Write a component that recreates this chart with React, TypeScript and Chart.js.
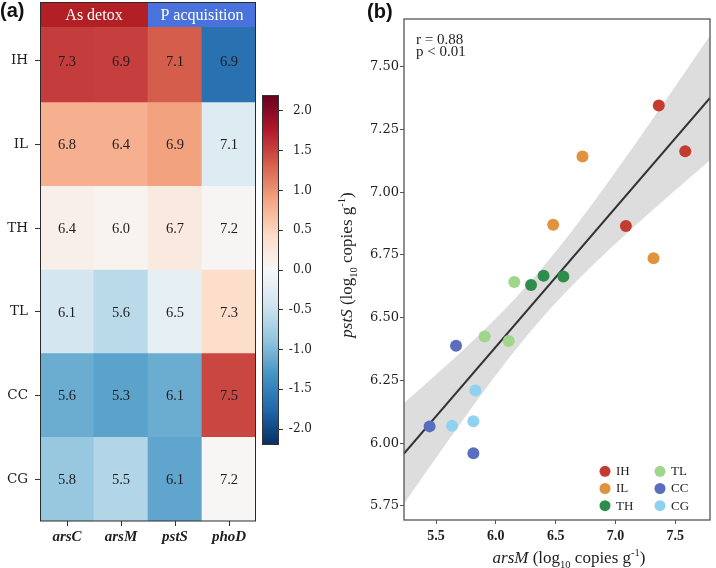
import React, { useEffect, useRef } from 'react';
import { Chart, registerables } from 'chart.js';
Chart.register(...registerables);

// ---------- Panel (a): heatmap data ----------
const sites = ['IH', 'IL', 'TH', 'TL', 'CC', 'CG'];
const genes = ['arsC', 'arsM', 'pstS', 'phoD'];
const arsCValues = [7.3, 6.8, 6.4, 6.1, 5.6, 5.8];
const arsMValues = [6.9, 6.4, 6.0, 5.6, 5.3, 5.5];
const pstSValues = [7.1, 6.9, 6.7, 6.5, 6.1, 6.1];
const phoDValues = [6.9, 7.1, 7.2, 7.3, 7.5, 7.2];
// colour-scale (scaled) values
const arsCScores = [1.54, 0.8, 0.12, -0.4, -1.1, -0.84];
const arsMScores = [1.52, 0.8, 0.07, -0.6, -1.18, -0.66];
const pstSScores = [1.34, 0.9, 0.22, -0.2, -1.1, -1.16];
const phoDScores = [-1.65, -0.3, 0.03, 0.4, 1.47, 0.02];
const groupLabels = ['As detox', 'P acquisition'];
const groupSpans = [2, 2];
const groupColors = ['#b21f24', '#4a72dc'];
const colorbarMin = -2.2;
const colorbarMax = 2.2;
const colorbarTicks = [-2, -1.5, -1, -0.5, 0, 0.5, 1, 1.5, 2];
const rdbu = ['#053061', '#2166ac', '#4393c3', '#92c5de', '#d1e5f0', '#f7f7f7', '#fddbc7', '#f4a582', '#d6604d', '#b2182b', '#67001f'];

// ---------- Panel (b): scatter data ----------
const scatterLabels = ['IH', 'IL', 'TH', 'TL', 'CC', 'CG'];
const scatterColors = ['#c43c2f', '#e0923f', '#2f8d4c', '#9fd68b', '#5a6ec0', '#8fd2f0'];
const ihArsM = [7.362, 7.583, 7.087];
const ihPstS = [7.345, 7.163, 6.865];
const ilArsM = [6.724, 6.479, 7.318];
const ilPstS = [7.142, 6.87, 6.737];
const thArsM = [6.294, 6.399, 6.564];
const thPstS = [6.63, 6.667, 6.664];
const tlArsM = [6.154, 5.906, 6.107];
const tlPstS = [6.642, 6.425, 6.407];
const ccArsM = [5.667, 5.446, 5.812];
const ccPstS = [6.388, 6.067, 5.96];
const cgArsM = [5.829, 5.634, 5.812];
const cgPstS = [6.21, 6.069, 6.087];
const xTicks = [5.5, 6.0, 6.5, 7.0, 7.5];
const yTicks = [5.75, 6.0, 6.25, 6.5, 6.75, 7.0, 7.25, 7.5];
const xRange = [5.232, 7.79];
const yRange = [5.694, 7.69];
const tCrit = 2.12;
const statText = ['r = 0.88', 'p < 0.01'];

const SERIF = 'Liberation Serif';
const SERIF2 = 'DejaVu Serif';
const INK = '#1e1e1e';

function hexToRgb(h: string) {
  const n = parseInt(h.slice(1), 16);
  return [(n >> 16) & 255, (n >> 8) & 255, n & 255];
}
function scoreColor(v: number) {
  let t = (v - colorbarMin) / (colorbarMax - colorbarMin);
  t = Math.max(0, Math.min(1, t));
  const p = t * (rdbu.length - 1);
  const i = Math.min(Math.floor(p), rdbu.length - 2);
  const f = p - i;
  const a = hexToRgb(rdbu[i]);
  const b = hexToRgb(rdbu[i + 1]);
  const c = a.map((x, k) => Math.round(x + (b[k] - x) * f));
  return `rgb(${c[0]},${c[1]},${c[2]})`;
}

type Run = { text: string; style?: string; scale?: number; shift?: number };
function drawRuns(ctx: CanvasRenderingContext2D, runs: Run[], x: number, y: number, size: number) {
  const fonts = runs.map(r => `${r.style || 'normal'} normal ${size * (r.scale || 1)}px "${SERIF}"`);
  const widths = runs.map((r, i) => { ctx.font = fonts[i]; return ctx.measureText(r.text).width; });
  const total = widths.reduce((a, b) => a + b, 0);
  let cx = x - total / 2;
  ctx.textAlign = 'left';
  ctx.textBaseline = 'alphabetic';
  runs.forEach((r, i) => {
    ctx.font = fonts[i];
    ctx.fillText(r.text, cx, y + (r.shift || 0) * size);
    cx += widths[i];
  });
}
function titleRuns(gene: string): Run[] {
  return [
    { text: gene, style: 'italic' },
    { text: ' (log' },
    { text: '10', scale: 0.62, shift: 0.28 },
    { text: ' copies g' },
    { text: '-1', scale: 0.62, shift: -0.42 },
    { text: ')' },
  ];
}

function makeHeatmap(canvas: HTMLCanvasElement) {
  const values = [arsCValues, arsMValues, pstSValues, phoDValues];
  const scores = [arsCScores, arsMScores, pstSScores, phoDScores];
  const rowOrder = sites.map((_, i) => sites.length - 1 - i);
  const datasets = rowOrder.map(r => ({
    label: sites[r],
    data: genes.map(() => 1),
    backgroundColor: genes.map((_, g) => scoreColor(scores[g][r])),
    borderWidth: 0,
    barPercentage: 1,
    categoryPercentage: 1,
  }));
  const decor = {
    id: 'heatDecor',
    afterDatasetsDraw(chart: any) {
      const ctx = chart.ctx as CanvasRenderingContext2D;
      const area = chart.chartArea;
      ctx.save();
      ctx.fillStyle = INK;
      ctx.font = `14.5px "${SERIF}"`;
      ctx.textAlign = 'center';
      ctx.textBaseline = 'middle';
      rowOrder.forEach((r, d) => {
        const meta = chart.getDatasetMeta(d);
        meta.data.forEach((el: any, g: number) => {
          const p = el.getProps(['x', 'y', 'base'], true);
          ctx.fillText(values[g][r].toFixed(1), p.x, (p.y + p.base) / 2 + 1);
        });
      });
      // group header
      const xs = chart.scales.x;
      const colW = xs.getPixelForValue(1) - xs.getPixelForValue(0);
      let start = 0;
      groupLabels.forEach((lab, i) => {
        const x0 = xs.getPixelForValue(start) - colW / 2;
        const x1 = x0 + groupSpans[i] * colW;
        ctx.fillStyle = groupColors[i];
        ctx.fillRect(x0, 2, x1 - x0, area.top + 8 - 2);
        ctx.fillStyle = '#ffffff';
        ctx.font = `16px "${SERIF}"`;
        ctx.textBaseline = 'alphabetic';
        ctx.fillText(lab, (x0 + x1) / 2, 19.5);
        start += groupSpans[i];
      });
      // frame
      ctx.strokeStyle = '#2a2a2a';
      ctx.lineWidth = 1;
      ctx.strokeRect(area.left + 0.5, 2.5, area.right - area.left - 1, area.bottom - 2.5);
      // panel label
      ctx.fillStyle = '#111';
      ctx.font = 'bold 20px "Liberation Sans"';
      ctx.textAlign = 'left';
      ctx.textBaseline = 'alphabetic';
      ctx.fillText('(a)', 0, 17);
      ctx.restore();
    },
  };
  return new Chart(canvas, {
    type: 'bar',
    data: { labels: genes, datasets },
    options: {
      responsive: false,
      animation: false,
      events: [],
      layout: { padding: { top: 19, right: 4, left: 0, bottom: 0 } },
      plugins: { legend: { display: false }, tooltip: { enabled: false } },
      scales: {
        x: {
          stacked: true,
          afterFit: (s: any) => { s.height = 47; },
          grid: { display: true, drawOnChartArea: false, offset: false, tickLength: 5, color: '#333' },
          border: { display: false },
          ticks: { color: INK, padding: 2, font: { family: SERIF, size: 15, weight: 'bold', style: 'italic' } },
        },
        y: {
          type: 'linear',
          stacked: true,
          min: 0,
          max: sites.length,
          afterFit: (s: any) => { s.width = 40; },
          afterBuildTicks: (s: any) => { s.ticks = sites.map((_, i) => ({ value: i + 0.5 })); },
          grid: { display: true, drawOnChartArea: false, tickLength: 5, color: '#333' },
          border: { display: false },
          ticks: {
            color: INK,
            padding: 7,
            font: { family: SERIF2, size: 13.5 },
            callback: (v: any) => sites[sites.length - 1 - Math.floor(Number(v))],
          },
        },
      },
    } as any,
    plugins: [decor],
  });
}

function makeColorbar(canvas: HTMLCanvasElement) {
  const frame = {
    id: 'cbFrame',
    afterDatasetsDraw(chart: any) {
      const ctx = chart.ctx as CanvasRenderingContext2D;
      const a = chart.chartArea;
      ctx.save();
      ctx.strokeStyle = '#333';
      ctx.lineWidth = 1;
      ctx.strokeRect(a.left + 0.5, a.top + 0.5, a.right - a.left - 1, a.bottom - a.top - 1);
      ctx.restore();
    },
  };
  return new Chart(canvas, {
    type: 'bar',
    data: {
      labels: ['scale'],
      datasets: [{
        data: [[colorbarMin, colorbarMax]],
        backgroundColor: (c: any) => {
          const chart = c.chart;
          const a = chart.chartArea;
          if (!a) return 'transparent';
          const g = chart.ctx.createLinearGradient(0, a.bottom, 0, a.top);
          rdbu.forEach((col, i) => g.addColorStop(i / (rdbu.length - 1), col));
          return g;
        },
        borderWidth: 0,
        barPercentage: 1,
        categoryPercentage: 1,
      }],
    },
    options: {
      responsive: false,
      animation: false,
      events: [],
      layout: { padding: { top: 95, bottom: 123, left: 7, right: 23 } },
      plugins: { legend: { display: false }, tooltip: { enabled: false } },
      scales: {
        x: { display: false },
        y: {
          position: 'right',
          min: colorbarMin,
          max: colorbarMax,
          afterFit: (s: any) => { s.width = 33; },
          afterBuildTicks: (s: any) => { s.ticks = colorbarTicks.map(v => ({ value: v })); },
          grid: { display: true, drawOnChartArea: false, tickLength: 4, color: '#333' },
          border: { display: false },
          ticks: {
            color: INK,
            padding: 4,
            crossAlign: 'far',
            font: { family: SERIF2, size: 12 },
            callback: (v: any) => Number(v).toFixed(1),
          },
        },
      },
    } as any,
    plugins: [frame],
  });
}

function makeScatter(canvas: HTMLCanvasElement) {
  const xsAll = [ihArsM, ilArsM, thArsM, tlArsM, ccArsM, cgArsM];
  const ysAll = [ihPstS, ilPstS, thPstS, tlPstS, ccPstS, cgPstS];
  const px = xsAll.flat();
  const py = ysAll.flat();
  const n = px.length;
  const mx = px.reduce((a, b) => a + b, 0) / n;
  const my = py.reduce((a, b) => a + b, 0) / n;
  let sxx = 0, sxy = 0;
  px.forEach((x, i) => { sxx += (x - mx) ** 2; sxy += (x - mx) * (py[i] - my); });
  const slope = sxy / sxx;
  const icpt = my - slope * mx;
  let sse = 0;
  px.forEach((x, i) => { sse += (py[i] - (icpt + slope * x)) ** 2; });
  const s = Math.sqrt(sse / (n - 2));
  const grid: number[] = [];
  for (let k = 0; k <= 40; k++) grid.push(xRange[0] + (xRange[1] - xRange[0]) * k / 40);
  const half = (x: number) => tCrit * s * Math.sqrt(1 / n + (x - mx) ** 2 / sxx);

  const pointSets = scatterLabels.map((lab, i) => ({
    type: 'scatter',
    label: lab,
    data: xsAll[i].map((x, k) => ({ x, y: ysAll[i][k] })),
    backgroundColor: scatterColors[i],
    borderWidth: 0,
    pointRadius: 6,
    pointHoverRadius: 6,
    order: 0,
  }));
  const fitLine = {
    type: 'line',
    label: 'fit',
    data: xRange.map(x => ({ x, y: icpt + slope * x })),
    borderColor: '#333333',
    borderWidth: 2,
    pointRadius: 0,
    showLine: true,
    fill: false,
    order: 1,
  };
  const bandLow = {
    type: 'line',
    label: 'low',
    data: grid.map(x => ({ x, y: icpt + slope * x - half(x) })),
    borderWidth: 0,
    borderColor: 'transparent',
    pointRadius: 0,
    showLine: true,
    fill: false,
    order: 2,
  };
  const bandHigh = {
    type: 'line',
    label: 'high',
    data: grid.map(x => ({ x, y: icpt + slope * x + half(x) })),
    borderWidth: 0,
    borderColor: 'transparent',
    backgroundColor: '#dddddd',
    pointRadius: 0,
    showLine: true,
    fill: '-1',
    order: 2,
  };

  const decor = {
    id: 'scatDecor',
    afterDatasetsDraw(chart: any) {
      const ctx = chart.ctx as CanvasRenderingContext2D;
      const a = chart.chartArea;
      ctx.save();
      ctx.strokeStyle = '#555';
      ctx.lineWidth = 1.3;
      ctx.strokeRect(a.left, a.top, a.right - a.left, a.bottom - a.top);
      // stats
      ctx.fillStyle = INK;
      ctx.font = `15px "${SERIF}"`;
      ctx.textAlign = 'left';
      ctx.textBaseline = 'alphabetic';
      ctx.fillText(statText[0], a.left + 12, a.top + 25);
      ctx.fillText(statText[1], a.left + 12, a.top + 37);
      // legend (column-major, 3 rows)
      scatterLabels.forEach((lab, i) => {
        const col = Math.floor(i / 3);
        const row = i % 3;
        const cx = a.right - 105 + col * 55;
        const cy = a.bottom - 48.7 + row * 17.2;
        ctx.fillStyle = scatterColors[i];
        ctx.beginPath();
        ctx.arc(cx, cy, 5.5, 0, Math.PI * 2);
        ctx.fill();
        ctx.fillStyle = INK;
        ctx.font = `13px "${SERIF}"`;
        ctx.textBaseline = 'middle';
        ctx.fillText(lab, cx + 11, cy + 0.5);
      });
      // axis titles
      ctx.fillStyle = INK;
      drawRuns(ctx, titleRuns('arsM'), 233, 563, 17);
      ctx.save();
      ctx.translate(16, 265);
      ctx.rotate(-Math.PI / 2);
      drawRuns(ctx, titleRuns('pstS'), 0, 0, 17);
      ctx.restore();
      // panel label
      ctx.fillStyle = '#111';
      ctx.font = 'bold 20px "Liberation Sans"';
      ctx.textAlign = 'left';
      ctx.textBaseline = 'alphabetic';
      ctx.fillText('(b)', 31, 18);
      ctx.restore();
    },
  };

  return new Chart(canvas, {
    type: 'scatter',
    data: { datasets: [...pointSets, fitLine, bandLow, bandHigh] as any },
    options: {
      responsive: false,
      animation: false,
      events: [],
      layout: { padding: { top: 19, right: 2, left: 0, bottom: 0 } },
      plugins: { legend: { display: false }, tooltip: { enabled: false } },
      scales: {
        x: {
          type: 'linear',
          min: xRange[0],
          max: xRange[1],
          afterFit: (sc: any) => { sc.height = 48; },
          afterBuildTicks: (sc: any) => { sc.ticks = xTicks.map(v => ({ value: v })); },
          grid: { display: true, drawOnChartArea: false, tickLength: 4, color: '#555' },
          border: { display: false },
          ticks: {
            color: INK,
            padding: 4,
            font: { family: SERIF, size: 14, weight: 'bold' },
            callback: (v: any) => Number(v).toFixed(1),
          },
        },
        y: {
          type: 'linear',
          min: yRange[0],
          max: yRange[1],
          afterFit: (sc: any) => { sc.width = 68; },
          afterBuildTicks: (sc: any) => { sc.ticks = yTicks.map(v => ({ value: v })); },
          grid: { display: true, drawOnChartArea: false, tickLength: 4, color: '#555' },
          border: { display: false },
          ticks: {
            color: INK,
            padding: 1,
            font: { family: SERIF2, size: 13 },
            callback: (v: any) => Number(v).toFixed(2),
          },
        },
      },
    } as any,
    plugins: [decor],
  });
}

export default function App() {
  const heatRef = useRef<HTMLCanvasElement>(null);
  const barRef = useRef<HTMLCanvasElement>(null);
  const scatRef = useRef<HTMLCanvasElement>(null);
  useEffect(() => {
    const charts = [
      makeHeatmap(heatRef.current!),
      makeColorbar(barRef.current!),
      makeScatter(scatRef.current!),
    ];
    return () => charts.forEach(c => c.destroy());
  }, []);
  return (
    <div style={{ position: 'absolute', left: 0, top: 0, width: 716, height: 568, background: '#ffffff', overflow: 'hidden' }}>
      <canvas ref={heatRef} width={260} height={568} style={{ position: 'absolute', left: 0, top: 0 }} />
      <canvas ref={barRef} width={80} height={568} style={{ position: 'absolute', left: 255, top: 0 }} />
      <canvas ref={scatRef} width={380} height={568} style={{ position: 'absolute', left: 336, top: 0 }} />
    </div>
  );
}
